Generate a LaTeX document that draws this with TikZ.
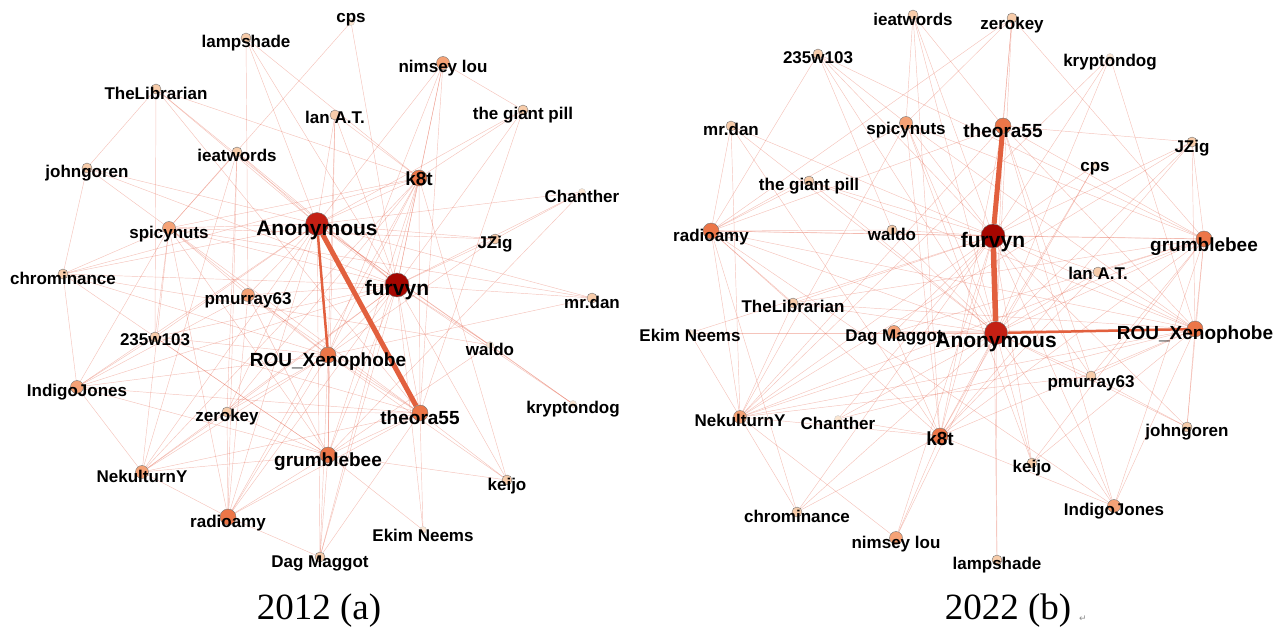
\documentclass[tikz,border=0pt]{standalone}
\usepackage{fontspec}
\setmainfont{Liberation Serif}
\setsansfont{Liberation Sans}
\newfontfamily\symfont{DejaVu Sans}
\usetikzlibrary{backgrounds}

\definecolor{hubdark}{RGB}{165,6,0}
\definecolor{hubred}{RGB}{196,32,20}
\definecolor{usrorange}{RGB}{236,118,72}
\definecolor{usrlight}{RGB}{245,162,118}
\definecolor{usrpale}{RGB}{247,204,170}
\definecolor{usrfaint}{RGB}{251,230,210}
\definecolor{lnkred}{RGB}{225,85,60}
\definecolor{lnkorange}{RGB}{226,96,62}

\tikzset{
  usr/.style={circle, draw=black!55, line width=.4pt, inner sep=0pt},
  dotdark/.style={usr, fill=hubdark, minimum size=24pt},
  dotred/.style={usr, fill=hubred, minimum size=23pt},
  dotorange/.style={usr, fill=usrorange, minimum size=16pt},
  dotlight/.style={usr, fill=usrlight, minimum size=13pt},
  dotpale/.style={usr, fill=usrpale, minimum size=10pt},
  dotfaint/.style={usr, fill=usrfaint, draw=black!20, minimum size=7pt},
  lbl/.style={inner sep=0pt, font=\sffamily\bfseries\fontsize{17}{17}\selectfont},
  lblm/.style={inner sep=0pt, font=\sffamily\bfseries\fontsize{19}{19}\selectfont},
  lblh/.style={inner sep=0pt, font=\sffamily\bfseries\fontsize{21}{21}\selectfont},
  lnk/.style={draw=lnkred, line width=.45pt, opacity=.35},
  lnkthick/.style={draw=lnkorange, line width=5pt},
  yearcap/.style={font=\rmfamily\fontsize{37}{37}\selectfont}
}

\begin{document}
\begin{tikzpicture}[x=1pt, y=-1pt]
    \useasboundingbox (0,0) rectangle (1285,630);

    % 2012 network
    \def\usersa{cps/351/22/dotfaint/lbl/-2/cps, lamp/246/38/dotpale/lbl/5/lampshade,
      nims/443/63/dotlight/lbl/5/nimsey lou, libr/156/89/dotpale/lbl/4/TheLibrarian,
      lan/335/115/dotpale/lbl/2/lan A.T., pill/523/110/dotpale/lbl/5/the giant pill,
      ieat/237/152/dotpale/lbl/3/ieatwords, john/87/168/dotpale/lbl/5/johngoren,
      kat/419/178/dotorange/lblm/1/k8t, chan/582/192/dotfaint/lbl/4/Chanther,
      anon/317/224/dotred/lblh/6/Anonymous, spic/169/228/dotlight/lbl/6/spicynuts,
      jzig/495/239/dotpale/lbl/5/JZig, chro/63/274/dotpale/lbl/4/chrominance,
      furv/397/285/dotdark/lblh/5/furvyn, pmur/248/295/dotlight/lbl/5/pmurray63,
      mrdan/592/298/dotpale/lbl/4/mr.dan, w235/155/337/dotpale/lbl/3/235w103,
      rou/328/355/dotorange/lblm/7/ROU\_Xenophobe, waldo/490/345/dotfaint/lbl/4/waldo,
      indi/77/387/dotlight/lbl/5/IndigoJones, kryp/573/404/dotfaint/lbl/5/kryptondog,
      zero/227/412/dotpale/lbl/5/zerokey, theo/420/413/dotorange/lblm/5/theora55,
      grum/328/455/dotorange/lblm/7/grumblebee, neku/142/472/dotlight/lbl/4/NekulturnY,
      keijo/507/480/dotpale/lbl/6/keijo, radio/228/517/dotorange/lbl/6/radioamy,
      ekim/423/530/dotfaint/lbl/5/Ekim Neems, dag/320/557/dotpale/lbl/6/Dag Maggot}

    % 2022 network
    \def\usersb{ieat/913/15/dotpale/lbl/4/ieatwords, zero/1012/18/dotpale/lbl/7/zerokey,
      w235/818/54/dotpale/lbl/4/235w103, kryp/1110/57/dotfaint/lbl/5/kryptondog,
      mrdan/731/126/dotpale/lbl/3/mr.dan, spic/906/123/dotlight/lbl/7/spicynuts,
      theo/1003/126/dotorange/lblm/5/theora55, jzig/1192/142/dotpale/lbl/6/JZig,
      cps/1095/165/dotfaint/lbl/4/cps, pill/809/181/dotpale/lbl/5/the giant pill,
      radio/711/231/dotorange/lbl/6/radioamy, waldo/892/230/dotpale/lbl/4/waldo,
      furv/993/236/dotdark/lblh/6/furvyn, grum/1204/239/dotorange/lblm/8/grumblebee,
      lan/1098/272/dotpale/lbl/1/lan A.T., libr/793/303/dotpale/lbl/3/TheLibrarian,
      ekim/690/333/dotfaint/lbl/2/Ekim Neems, dag/894/332/dotlight/lbl/5/Dag Maggot,
      anon/996/333/dotred/lblh/9/Anonymous, rou/1195/329/dotorange/lblm/6/ROU\_Xenophobe,
      pmur/1091/376/dotpale/lbl/7/pmurray63, neku/740/417/dotlight/lbl/3/NekulturnY,
      chan/838/419/dotfaint/lbl/4/Chanther, kat/940/436/dotorange/lblm/3/k8t,
      john/1187/427/dotpale/lbl/5/johngoren, keijo/1032/463/dotpale/lbl/5/keijo,
      chro/797/512/dotpale/lbl/4/chrominance, indi/1114/506/dotlight/lbl/5/IndigoJones,
      nims/896/538/dotlight/lbl/6/nimsey lou, lamp/997/560/dotpale/lbl/5/lampshade}

    \foreach \k/\x/\y/\s/\l/\d/\t in \usersa
        \node[\s] (a\k) at (\x,\y) {};
    \foreach \k/\x/\y/\s/\l/\d/\t in \usersb
        \node[\s] (b\k) at (\x,\y) {};

    \begin{scope}[on background layer]
        \foreach \h/\others in {cps/{furv,spic}, lamp/{anon,furv,pmur,kat},
          libr/{anon,furv,john,w235,kat,theo}, ieat/{anon,furv,spic,zero,neku},
          john/{anon,furv,spic,chro}, nims/{anon,furv,kat,pill,theo,rou},
          lan/{anon,furv,kat,rou,grum}, pill/{kat,furv,theo,anon},
          chan/{anon,furv,jzig,grum}, jzig/{furv,anon,spic,rou},
          mrdan/{anon,spic,furv,rou}, waldo/{anon,kryp,chro,furv,grum},
          kryp/{furv,anon}, keijo/{theo,furv,grum,rou,kat}, ekim/{theo,furv,grum},
          dag/{grum,rou,anon,furv,radio,theo,kat},
          radio/{anon,furv,spic,neku,zero,rou,grum,theo,kat,ieat,pmur},
          neku/{anon,furv,indi,spic,zero,rou,grum,theo,kat},
          indi/{anon,furv,spic,w235,grum,rou,theo,pmur},
          zero/{anon,furv,rou,grum,theo,kat}, w235/{anon,furv,spic,rou,grum,theo},
          pmur/{anon,furv,grum,rou,theo,spic}, chro/{anon,furv,spic,rou,grum,kat,indi},
          spic/{anon,furv,rou,grum,theo,kat}, kat/{anon,furv,rou,grum,theo},
          rou/{furv,grum,theo}, grum/{furv,theo}, theo/{furv}, anon/{furv}}
            \foreach \o in \others
                \draw[lnk] (a\h) -- (a\o);
        \draw[lnkthick] (aanon) -- (atheo);
        \draw[lnkthick, line width=2.5pt] (aanon) -- (arou);

        \foreach \h/\others in {ieat/{furv,anon,theo,spic,kat},
          zero/{furv,anon,theo,spic,grum,radio}, w235/{furv,anon,spic,radio,waldo,grum},
          kryp/{furv,anon,rou,neku}, mrdan/{furv,anon,radio,neku,kat},
          spic/{furv,anon,kat,radio,grum,rou,neku,keijo},
          theo/{anon,grum,rou,jzig,radio,neku,kat,pmur,indi},
          jzig/{furv,anon,rou,grum,kat,neku}, cps/{furv,anon,kat},
          pill/{furv,anon,radio,rou},
          radio/{furv,anon,waldo,grum,rou,neku,kat,chro,indi,libr},
          waldo/{furv,anon}, grum/{furv,anon,rou,neku,kat,john,indi,pmur,keijo},
          lan/{furv,anon,grum,rou,kat}, libr/{furv,anon,rou,grum},
          ekim/{furv,anon,neku}, dag/{furv,anon,rou,grum,kat},
          rou/{furv,neku,kat,john,indi,pmur,keijo}, pmur/{furv,anon,neku,john},
          neku/{furv,anon,kat,chro,nims,libr}, chan/{furv,anon,kat,rou},
          kat/{furv,anon,nims,chro,indi}, john/{furv,anon}, keijo/{furv,anon},
          chro/{furv,anon}, indi/{furv,anon}, nims/{furv,anon}, lamp/{anon,furv}}
            \foreach \o in \others
                \draw[lnk] (b\h) -- (b\o);
        \draw[lnkthick] (bfurv) -- (btheo);
        \draw[lnkthick, line width=5.5pt] (bfurv) -- (banon);
        \draw[lnkthick, line width=2.5pt] (banon) -- (brou);
    \end{scope}

    % user names on top of the dots
    \foreach \k/\x/\y/\s/\l/\d/\t in \usersa
        \node[\l] (a\k-name) at (\x,\y+\d) {\t};
    \foreach \k/\x/\y/\s/\l/\d/\t in \usersb
        \node[\l] (b\k-name) at (\x,\y+\d) {\t};

    \node[yearcap] (capa) at (319,611) {2012 (a)};
    \node[yearcap] (capb) at (1008,611) {2022 (b)};
    \node[text=black!45, font=\symfont\fontsize{9}{9}\selectfont] (ret) at (1083,619) {↵};
\end{tikzpicture}
\end{document}
